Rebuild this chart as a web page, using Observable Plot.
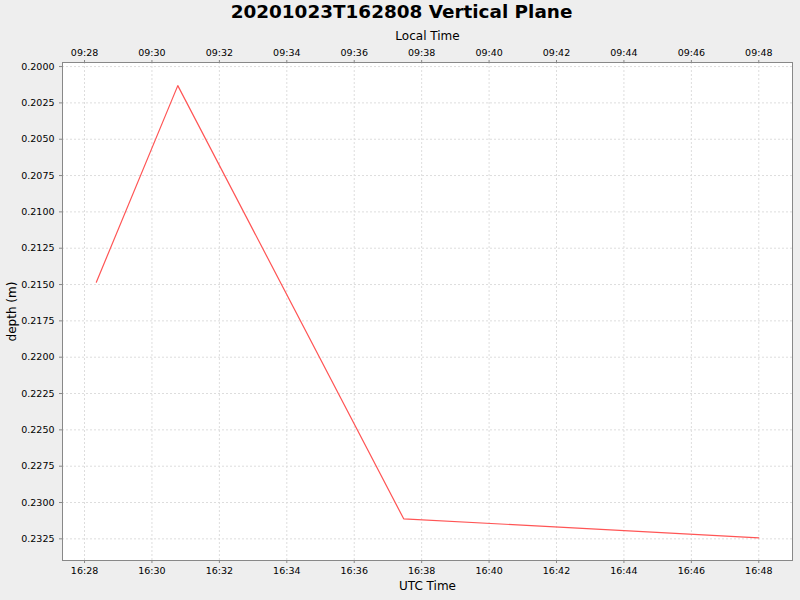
<!DOCTYPE html>
<html>
<head>
<meta charset="utf-8">
<script src="https://cdn.jsdelivr.net/npm/d3@7"></script>
<script src="https://cdn.jsdelivr.net/npm/@observablehq/plot@0.6"></script>
<style>
  body { margin: 0; background: #eeeeee; }
  #chart svg { display: block; background: #eeeeee; font-family: "DejaVu Sans", sans-serif; }
</style>
</head>
<body>
<div id="chart"></div>
<script>
const titleText = "20201023T162808 Vertical Plane";
const utcTimes = ["2020-10-23T16:28:21Z", "2020-10-23T16:30:46Z", "2020-10-23T16:37:28Z", "2020-10-23T16:48:00Z"];
const depths = [0.21484, 0.20131, 0.23112, 0.23243];
const tickTimes = ["16:28","16:30","16:32","16:34","16:36","16:38","16:40","16:42","16:44","16:46","16:48"];
const depthTicks = [0.2000,0.2025,0.2050,0.2075,0.2100,0.2125,0.2150,0.2175,0.2200,0.2225,0.2250,0.2275,0.2300,0.2325];
const localOffsetHours = -7;

const data = utcTimes.map((t, i) => ({time: new Date(t), depth: depths[i]}));
const xTicks = tickTimes.map(s => new Date("2020-10-23T" + s + ":00Z"));
const fmt = d3.utcFormat("%H:%M");
const fmtLocal = d => fmt(new Date(+d + localOffsetHours * 3600e3));

const chart = Plot.plot({
  width: 800,
  height: 600,
  marginTop: 62,
  marginBottom: 40,
  marginLeft: 62,
  marginRight: 8,
  style: {fontFamily: "DejaVu Sans, sans-serif", fontSize: "9.5px", background: "#eeeeee", color: "black"},
  x: {type: "utc", domain: [new Date("2020-10-23T16:27:20.8Z"), new Date("2020-10-23T16:49:00Z")]},
  y: {domain: [0.19972, 0.23399], reverse: true},
  marks: [
    Plot.frame({fill: "white", stroke: null}),
    Plot.gridX(xTicks, {stroke: "#dddddd", strokeOpacity: 1, strokeDasharray: "2,2"}),
    Plot.gridY(depthTicks, {stroke: "#dddddd", strokeOpacity: 1, strokeDasharray: "2,2"}),
    Plot.axisX(xTicks, {anchor: "bottom", tickFormat: fmt, tickSize: 3, tickPadding: 4, stroke: "#888", label: null, fontSize: 9.5}),
    Plot.axisX(xTicks, {anchor: "top", tickFormat: fmtLocal, tickSize: 3, tickPadding: 4, stroke: "#888", label: null, fontSize: 9.5}),
    Plot.axisY(depthTicks, {anchor: "left", tickFormat: d3.format(".4f"), tickSize: 3, tickPadding: 5, stroke: "#888", label: null, fontSize: 9.5}),
    Plot.frame({stroke: "#888", strokeWidth: 1}),
    Plot.line(data, {x: "time", y: "depth", stroke: "#ff5555", strokeWidth: 1.2}),
    Plot.text([titleText], {frameAnchor: "top-left", dx: 339, dy: -50, textAnchor: "middle", lineAnchor: "middle", fontSize: 18.4, fontWeight: "bold", fill: "black"}),
    Plot.text(["Local Time"], {frameAnchor: "top", dy: -26, lineAnchor: "middle", fontSize: 12, fill: "black"}),
    Plot.text(["UTC Time"], {frameAnchor: "bottom", dy: 26, lineAnchor: "middle", fontSize: 12, fill: "black"}),
    Plot.text(["depth (m)"], {frameAnchor: "left", dx: -50, rotate: -90, textAnchor: "middle", lineAnchor: "middle", fontSize: 12, fill: "black"})
  ]
});
document.getElementById("chart").appendChild(chart);
</script>
</body>
</html>
